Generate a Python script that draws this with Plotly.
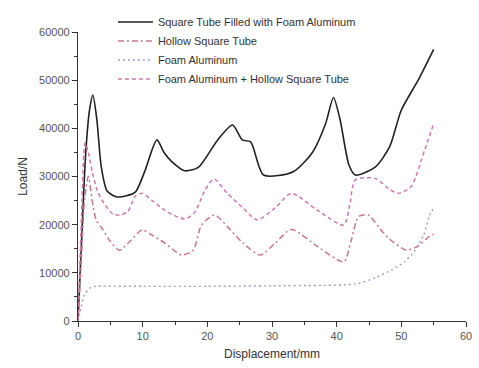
import plotly.graph_objects as go

# Square Tube Filled with Foam Aluminum
filled_x = [0, 0.5, 1.2, 1.8, 2.3, 2.9, 3.6, 4.5, 5.9, 7.5, 8.9, 10.3, 12.2, 13.3, 14.5, 16.5, 18.6,
            21.6, 23.9, 25.4, 26.7, 28.7, 33.3, 36.3, 38.3, 39.5, 40.5, 41.9, 42.9, 46.0, 48.2, 50.0, 52.6, 55.0]
filled_y = [0, 15000, 35000, 44000, 46900, 42000, 32000, 27000, 25800, 26000, 26800, 31000, 37600, 35000,
            33100, 31200, 31900, 37600, 40700, 37600, 37200, 30300, 31000, 35100, 41000, 46400, 42000, 32400,
            30300, 32000, 36200, 43800, 50000, 56400]

# Hollow Square Tube
hollow_x = [0, 0.5, 1.0, 1.6, 2.2, 2.8, 3.9, 5.0, 6.4, 8.0, 9.9, 11.5, 13.5, 16.0, 17.8, 19.1, 21.1, 23.1,
            25.5, 28.2, 30.5, 33.0, 37.0, 41.1, 42.2, 43.4, 44.9, 46.5, 48.0, 50.8, 52.5, 54.3, 55.0]
hollow_y = [0, 12000, 25000, 30000, 25000, 21000, 18900, 16500, 14700, 16500, 18900, 17800, 16100, 13700,
            14700, 19900, 22000, 19600, 16200, 13700, 16200, 19000, 15500, 12300, 16500, 21700, 22000, 19500,
            17200, 14700, 15500, 17500, 18000]

# Foam Aluminum
foam_x = [0, 0.5, 1.0, 2.0, 3.0, 10, 20, 30, 38, 41, 43.4, 46, 48.5, 50.5, 52, 53.5, 54.3, 55]
foam_y = [0, 3000, 5500, 7000, 7200, 7200, 7200, 7300, 7400, 7500, 7800, 9000, 10600, 12300, 14400, 18000,
          21700, 23500]

# Foam Aluminum + Hollow Square Tube
combo_x = [0, 0.5, 1.1, 1.6, 2.2, 3.0, 4.0, 5.4, 6.4, 7.7, 8.9, 10.0, 11.5, 13.5, 16.5, 18.0, 19.6, 21.0,
           23.1, 25.5, 27.7, 30.5, 33.0, 37.0, 41.1, 42.0, 42.9, 46.0, 48.0, 49.5, 51.5, 53.6, 55.0]
combo_y = [0, 20000, 37000, 35000, 31000, 27000, 24500, 22200, 22000, 22700, 26000, 26500, 25000, 22900,
           21200, 22500, 27000, 29500, 26500, 23500, 21000, 23500, 26500, 23000, 19900, 24000, 29300, 29600,
           27500, 26500, 27900, 35500, 41000]

names = ["Square Tube Filled with Foam Aluminum", "Hollow Square Tube", "Foam Aluminum",
         "Foam Aluminum + Hollow Square Tube"]

fig = go.Figure()
fig.add_trace(go.Scatter(x=filled_x, y=filled_y, mode="lines", name=names[0],
                         line=dict(color="#222222", width=1.6, shape="spline", smoothing=0.7)))
fig.add_trace(go.Scatter(x=hollow_x, y=hollow_y, mode="lines", name=names[1],
                         line=dict(color="#c87888", width=1.5, dash="6px,3px,2px,3px", shape="spline", smoothing=0.7)))
fig.add_trace(go.Scatter(x=foam_x, y=foam_y, mode="lines", name=names[2],
                         line=dict(color="#a898c0", width=1.4, dash="2px,3px", shape="spline", smoothing=0.6)))
fig.add_trace(go.Scatter(x=combo_x, y=combo_y, mode="lines", name=names[3],
                         line=dict(color="#d078ac", width=1.5, dash="4px,3px", shape="spline", smoothing=0.7)))

axis_common = dict(showline=True, linecolor="#333", linewidth=1.2, ticks="outside", ticklen=5,
                   tickcolor="#333", showgrid=False, zeroline=False, mirror=False,
                   tickfont=dict(family="Liberation Sans, Arial", size=11, color="#555"))

fig.update_layout(
    width=479, height=368,
    margin=dict(l=78, r=7, t=32, b=47),
    paper_bgcolor="white", plot_bgcolor="white",
    font=dict(family="Liberation Sans, Arial", size=11, color="#333"),
    xaxis=dict(range=[0, 60], dtick=10, tick0=0,
               title=dict(text="Displacement/mm", font=dict(size=12, color="#333"), standoff=8),
               minor=dict(ticks="outside", ticklen=3, dtick=5, tickcolor="#333"),
               **axis_common),
    yaxis=dict(range=[0, 60000], dtick=10000, tick0=0, tickformat="d",
               title=dict(text="Load/N", font=dict(size=12, color="#333"), standoff=8),
               minor=dict(ticks="outside", ticklen=3, dtick=5000, tickcolor="#333"),
               **axis_common),
    legend=dict(x=0.09, y=1.085, xanchor="left", yanchor="top", bgcolor="rgba(0,0,0,0)",
                font=dict(size=11, color="#333"), tracegroupgap=0, itemwidth=35),
    showlegend=True,
)

fig.write_html("out.html")
